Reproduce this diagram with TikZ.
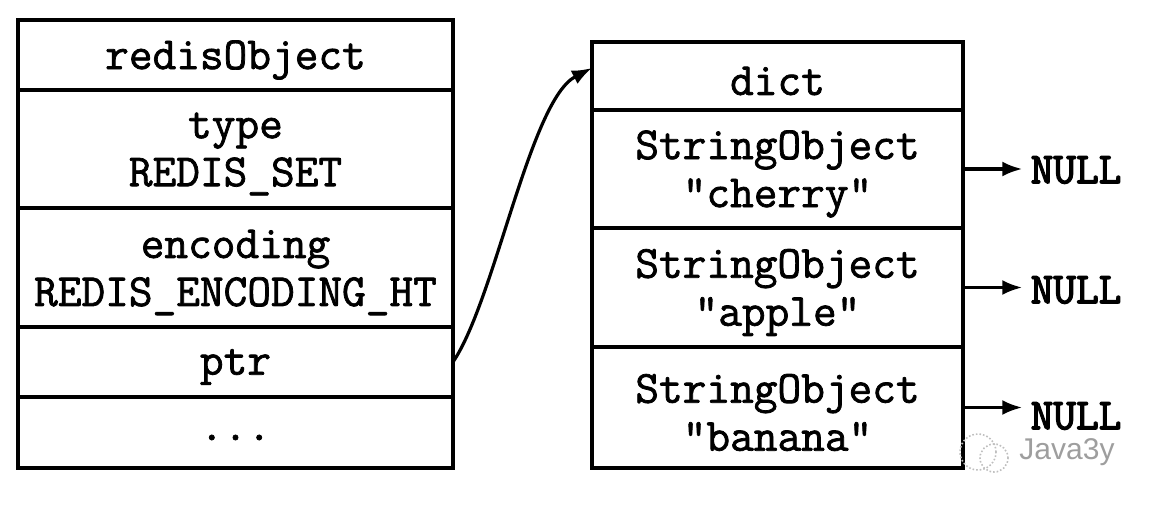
\documentclass[tikz,border=0pt]{standalone}
\usepackage{fontspec}
\usetikzlibrary{arrows.meta}
\newfontfamily\codefont{Latin Modern Mono}[FakeBold=1.6]
\newfontfamily\endmarkfont{Latin Modern Mono}[FakeBold=3]
\newfontfamily\markfont{Liberation Sans}
\begin{document}
\begin{tikzpicture}[x=0.5pt,y=-0.5pt,
  cell/.style={draw, line width=2pt, rectangle, anchor=north west,
    inner sep=0pt, outer sep=0pt},
  leftcell/.style={cell, minimum width=217.5pt},
  rightcell/.style={cell, minimum width=185.5pt},
  celltext/.style={inner sep=0pt, align=center, yshift=-2.5pt,
    font=\codefont\fontsize{23pt}{24pt}\selectfont},
  nullbox/.style={inner xsep=4pt, inner ysep=0pt,
    font=\endmarkfont\fontsize{22pt}{23.5pt}\selectfont},
  link/.style={line width=1.6pt, -{Latex[length=10pt,width=7.5pt]}}
]
\useasboundingbox (0,0) rectangle (1162,518);

% redisObject structure
\node[leftcell, minimum height=35pt]   (head)  at (18,20)  {};
\node[leftcell, minimum height=59pt]   (type)  at (18,90)  {};
\node[leftcell, minimum height=59.5pt] (enc)   at (18,208) {};
\node[leftcell, minimum height=35pt]   (ptr)   at (18,327) {};
\node[leftcell, minimum height=35.5pt] (more)  at (18,397) {};
\node[celltext] (headT) at (head.center) {redisObject};
\node[celltext] (typeT) at (type.center) {type\\REDIS\_SET};
\node[celltext] (encT)  at (enc.center)  {encoding\\REDIS\_ENCODING\_HT};
\node[celltext] (ptrT)  at (ptr.center)  {ptr};
\node[celltext] (moreT) at (more.center) {...};

% dict and its entries
\node[rightcell, minimum height=34pt]   (dict)   at (592,42)  {};
\node[rightcell, minimum height=59pt]   (cherry) at (592,110) {};
\node[rightcell, minimum height=59.5pt] (apple)  at (592,228) {};
\node[rightcell, minimum height=60.5pt] (banana) at (592,347) {};
\node[celltext] (dictT)   at (dict.center)   {dict};
\node[celltext] (cherryT) at (cherry.center) {StringObject\\"cherry"};
\node[celltext] (appleT)  at (apple.center)  {StringObject\\"apple"};
\node[celltext] (bananaT) at (banana.center) {StringObject\\"banana"};

% NULL terminators
\node[nullbox] (nullA) at (1076,170) {NULL};
\node[nullbox] (nullB) at (1076,290) {NULL};
\node[nullbox] (nullC) at (1076,416) {NULL};

\draw[link] (ptr.east) .. controls (495,300) and (530,100) .. ([yshift=4pt]dict.west);
\draw[link] (cherry.east) -- (nullA.west |- cherry.east);
\draw[link] (apple.east)  -- (nullB.west |- apple.east);
\draw[link] (banana.east) -- (nullC.west |- banana.east);

% watermark
\node[font=\markfont\fontsize{15pt}{15pt}\selectfont, text=black!38, inner sep=0pt] (mark) at (1067,452) {Java3y};
\draw[black!25, densely dotted, line width=0.8pt] (978,452) circle (9pt);
\draw[black!25, densely dotted, line width=0.8pt] (994,458) circle (7pt);
\end{tikzpicture}
\end{document}
